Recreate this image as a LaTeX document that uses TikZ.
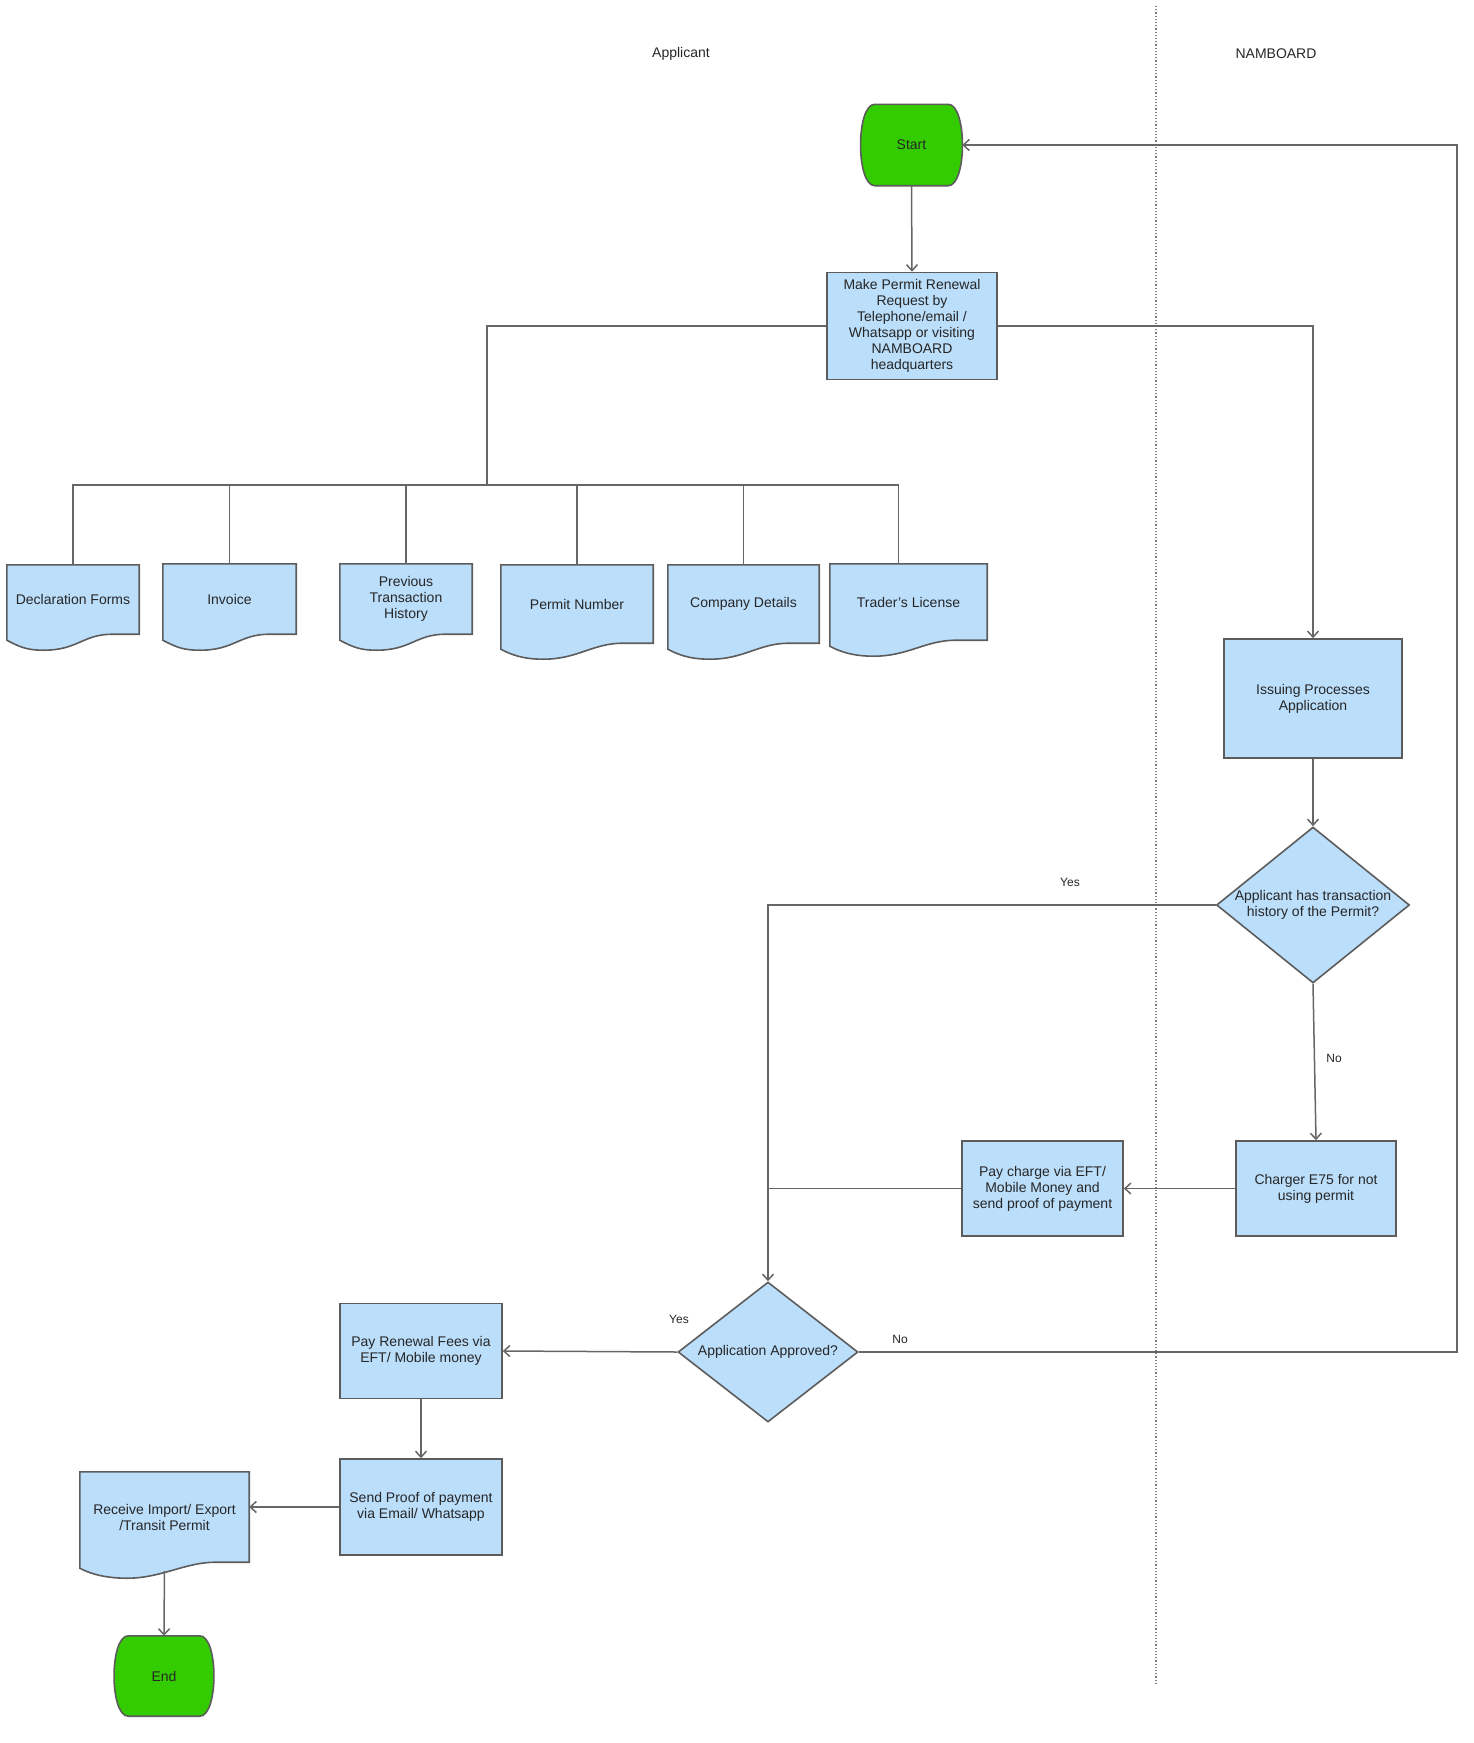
\documentclass[tikz,border=0pt]{standalone}
\usepackage{fontspec}
\setmainfont{Liberation Sans}
\usetikzlibrary{shapes.geometric,arrows.meta,backgrounds,calc}

\definecolor{boxblue}{RGB}{187,222,251}
\definecolor{termgreen}{RGB}{51,204,0}
\definecolor{edgegray}{RGB}{92,92,92}
\definecolor{linegray}{RGB}{102,102,102}

\tikzset{
  every node/.style={font=\fontsize{14}{16}\selectfont, text=black!85},
  procbox/.style={draw=edgegray, line width=1.6pt, fill=boxblue, align=center, inner sep=2pt},
  docbox/.style={align=center, inner sep=2pt},
  termbox/.style={align=center, inner sep=0pt},
  decision/.style={diamond, draw=edgegray, line width=1.6pt, fill=boxblue, align=center, inner sep=0pt},
  flow/.style={draw=linegray, line width=1.5pt},
  flowarr/.style={flow, -{Straight Barb[length=6pt,width=11pt]}},
  edgelabel/.style={font=\fontsize{12}{14}\selectfont},
  docline/.style={draw=edgegray, line width=1.6pt, fill=boxblue},
  termline/.style={draw=edgegray, line width=1.6pt, fill=termgreen},
  laneline/.style={draw=gray, line width=1.2pt, dash pattern=on 1.2pt off 2pt}
}

\begin{document}
\begin{tikzpicture}[x=1pt,y=-1pt]
\useasboundingbox (0,0) rectangle (1474,1743);

\node (lane1) at (681,54) {Applicant};
\node (lane2) at (1276,54) {NAMBOARD};
\draw[laneline] (1156,6) -- (1156,1684);

\node[termbox, minimum width=101pt, minimum height=81pt] (start) at (911.5,145) {Start};
\node[procbox, minimum width=170pt, minimum height=107pt] (req) at (912,326)
  {Make Permit Renewal\\Request by\\Telephone/email /\\Whatsapp or visiting\\NAMBOARD\\headquarters};

\node[docbox, minimum width=132pt, minimum height=69pt] (decl) at (73,599.5) {Declaration Forms};
\node[docbox, minimum width=133pt, minimum height=70pt] (inv) at (229.5,599) {Invoice};
\node[docbox, minimum width=132pt, minimum height=70pt] (prev) at (406,599) {Previous\\Transaction\\History};
\node[docbox, minimum width=152pt, minimum height=78pt] (pnum) at (577,604) {Permit Number};
\node[docbox, minimum width=151pt, minimum height=78pt] (comp) at (743.5,604) {Company Details};
\node[docbox, minimum width=157pt, minimum height=76pt] (trad) at (908.5,602) {Trader's License};

\node[procbox, minimum width=178pt, minimum height=119pt] (issue) at (1313,698.5) {Issuing Processes\\Application};
\node[decision, aspect=1.24, minimum width=193pt, minimum height=156pt] (hist) at (1313,905)
  {Applicant has transaction\\history of the Permit?};
\node[procbox, minimum width=160pt, minimum height=95pt] (charge) at (1316,1188.5) {Charger E75 for not\\using permit};
\node[procbox, minimum width=161pt, minimum height=95pt] (pay) at (1042.5,1188.5)
  {Pay charge via EFT/\\Mobile Money and\\send proof of payment};
\node[decision, aspect=1.29, minimum width=180pt, minimum height=140pt] (appr) at (768,1352) {Application Approved?};
\node[procbox, minimum width=162pt, minimum height=95pt] (renew) at (421,1351) {Pay Renewal Fees via\\EFT/ Mobile money};
\node[procbox, minimum width=162pt, minimum height=96pt] (send) at (421,1507) {Send Proof of payment\\via Email/ Whatsapp};
\node[docbox, minimum width=169pt, minimum height=90pt] (recv) at (164.5,1517) {Receive Import/ Export\\/Transit Permit};
\node[termbox, minimum width=99pt, minimum height=80pt] (endn) at (164,1676) {End};

\node[edgelabel] (yes1) at (1070,882) {Yes};
\node[edgelabel] (no1) at (1334,1058) {No};
\node[edgelabel] (yes2) at (679,1319) {Yes};
\node[edgelabel] (no2) at (900,1339) {No};

\begin{scope}[on background layer]
\foreach \t in {start,endn}
{
\draw[termline] ($(\t.north west)+(14,0)$) -- ($(\t.north east)+(-14,0)$)
  .. controls +(19,0) and +(19,0) .. ($(\t.south east)+(-14,0)$) -- ($(\t.south west)+(14,0)$)
  .. controls +(-19,0) and +(-19,0) .. ($(\t.north west)+(14,0)$) -- cycle;
}
\foreach \d in {decl,inv,prev,pnum,comp,trad,recv}
{
\draw[docline] (\d.south east) -- (\d.north east) -- (\d.north west) -- ($(\d.south west)+(0,6)$)
  .. controls +(15,8) and +(-15,0) .. ($(\d.south west)!0.28!(\d.south east)+(0,16)$)
  .. controls +(34,0) and +(-30,0) .. ($(\d.south west)!0.8!(\d.south east)$) -- cycle;
}
\end{scope}

\coordinate (bus) at (487,485);
\coordinate (loop) at (1457,700);

\draw[flowarr] (start.south) -- (req.north);
\draw[flow] (req.west) -| (bus);
\foreach \d in {decl,inv,prev,pnum,comp}
{
\draw[flow] (bus) -| (\d.north);
}
\draw[flow] (bus) -| ([xshift=-10pt]trad.north);
\draw[flowarr] (req.east) -| (issue.north);
\draw[flowarr] (issue.south) -- (hist.north);
\draw[flowarr] (hist.west) -| (appr.north);
\draw[flowarr] (hist.south) -- (charge.north);
\draw[flowarr] (charge.west) -- (pay.east);
\draw[flow] (pay.west) -- (pay.west -| appr.north);
\draw[flowarr] (appr.west) -- (renew.east);
\draw[flowarr] (appr.east) -| (loop) |- (start.east);
\draw[flowarr] (renew.south) -- (send.north);
\draw[flowarr] (send.west) -- (send.west -| recv.east);
\draw[flowarr, shorten <=9pt] (recv.south) -- (endn.north);

\end{tikzpicture}
\end{document}
